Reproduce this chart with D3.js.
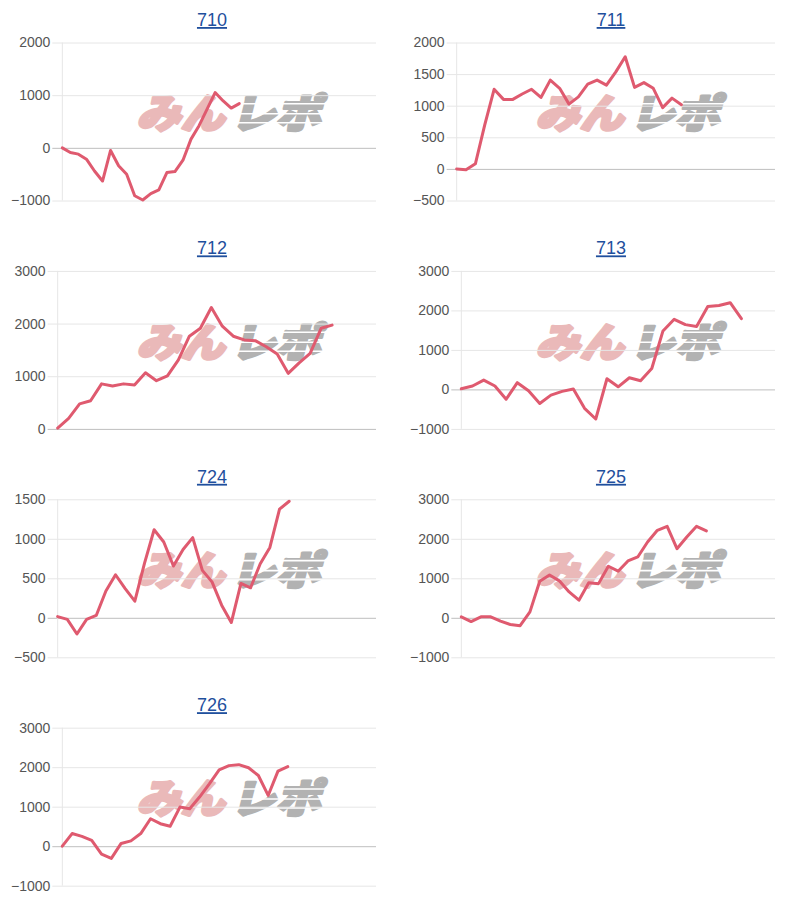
<!DOCTYPE html>
<html>
<head>
<meta charset="utf-8">
<script src="https://cdn.jsdelivr.net/npm/d3@7"></script>
<style>
  body { margin: 0; background: #fff; }
  svg { display: block; }
</style>
</head>
<body>
<svg id="chart" width="800" height="906"></svg>
<script>
// machine numbers shown as panel titles
const machines = ['710', '711', '712', '713', '724', '725', '726'];
// number of x slots (hidden category labels) on each panel
const slotCounts = [40, 35, 30, 29, 34, 33, 33];

// y tick labels per panel
const ticks710 = [-1000, 0, 1000, 2000];
const ticks711 = [-500, 0, 500, 1000, 1500, 2000];
const ticks712 = [0, 1000, 2000, 3000];
const ticks713 = [-1000, 0, 1000, 2000, 3000];
const ticks724 = [-500, 0, 500, 1000, 1500];
const ticks725 = [-1000, 0, 1000, 2000, 3000];
const ticks726 = [-1000, 0, 1000, 2000, 3000];

// coin difference series
const diff710 = [0, -90, -120, -215, -440, -630, -50, -340, -500, -910, -990, -870,
  -800, -470, -450, -235, 165, 420, 735, 1050, 890, 755, 840];
const diff711 = [0, -15, 80, 695, 1260, 1100, 1100, 1185, 1260, 1130, 1405, 1275,
  1025, 1140, 1340, 1405, 1325, 1535, 1775, 1290, 1365, 1275, 970, 1120, 1015];
const diff712 = [15, 200, 475, 535, 855, 815, 855, 835, 1065, 915, 1005, 1310, 1760,
  1910, 2305, 1950, 1760, 1690, 1675, 1560, 1420, 1055, 1255, 1435, 1910, 1970];
const diff713 = [15, 85, 235, 85, -250, 170, -35, -355, -145, -50, 10, -480, -750,
  270, 65, 295, 220, 530, 1480, 1775, 1640, 1595, 2100, 2125, 2195, 1790];
const diff724 = [15, -20, -205, -20, 30, 340, 545, 370, 210, 690, 1115, 960, 655,
  865, 1015, 600, 455, 160, -60, 435, 380, 685, 890, 1375, 1475];
const diff725 = [25, -95, 25, 25, -85, -170, -200, 150, 925, 1085, 935, 655, 445,
  885, 865, 1305, 1180, 1440, 1540, 1920, 2215, 2315, 1750, 2045, 2315, 2200];
const diff726 = [0, 320, 250, 150, -200, -310, 70, 135, 320, 695, 570, 505, 990,
  950, 1245, 1580, 1935, 2040, 2065, 1985, 1790, 1285, 1900, 2015];

const tickSets = [ticks710, ticks711, ticks712, ticks713, ticks724, ticks725, ticks726];
const series = [diff710, diff711, diff712, diff713, diff724, diff725, diff726];

const colX = [0, 399];
const rowH = 228.4;
const font = '"Liberation Sans", Arial, Helvetica, sans-serif';
const lineColor = '#df5a6f';

const svg = d3.select('#chart');

// measure widest tick label so the plot starts after it
function labelWidth(values) {
  const tmp = svg.append('g')
      .style('font', '14px ' + font);
  let w = 0;
  values.forEach((v) => {
    const t = tmp.append('text').text(v);
    w = Math.max(w, t.node().getComputedTextLength());
  });
  tmp.remove();
  return w;
}

machines.forEach((name, i) => {
  const x0 = colX[i % 2];
  const y0 = Math.floor(i / 2) * rowH;
  const ticks = tickSets[i];
  const data = series[i];

  const plotLeft = x0 + 14.5 + labelWidth(ticks) + 12;
  const plotRight = x0 + 376;
  const plotTop = y0 + 42.5;
  const plotBottom = y0 + 200.5;

  const g = svg.append('g').attr('class', 'panel');

  // title (link style)
  g.append('text')
      .attr('x', x0 + 212)
      .attr('y', y0 + 26)
      .attr('text-anchor', 'middle')
      .style('font', '18px ' + font)
      .style('text-decoration', 'underline')
      .attr('fill', '#1f4f9d')
      .text(name);

  const x = d3.scaleLinear()
      .domain([0, slotCounts[i] - 1])
      .range([plotLeft, plotRight]);
  const y = d3.scaleLinear()
      .domain(d3.extent(ticks))
      .range([plotBottom, plotTop]);

  // watermark logo
  const wm = g.append('g')
      .attr('transform', 'translate(' + (x0 + 233) + ',' + (y0 + 111) + ') skewX(-14)')
      .style('font-family', '"Noto Sans CJK JP", sans-serif')
      .style('font-weight', 900)
      .style('font-size', '40px')
      .attr('dominant-baseline', 'central');
  wm.append('text')
      .attr('x', -92)
      .attr('textLength', 88)
      .attr('lengthAdjust', 'spacingAndGlyphs')
      .attr('fill', '#eab9b9')
      .attr('stroke', '#eab9b9')
      .attr('stroke-width', 3)
      .attr('stroke-linejoin', 'round')
      .text('みん');
  wm.append('text')
      .attr('x', 2)
      .attr('textLength', 90)
      .attr('lengthAdjust', 'spacingAndGlyphs')
      .attr('fill', '#b2b2b2')
      .attr('stroke', '#b2b2b2')
      .attr('stroke-width', 3)
      .attr('stroke-linejoin', 'round')
      .text('レポ');
  [-8, 2, 11].forEach((dy) => {
    wm.append('rect')
        .attr('x', 0)
        .attr('y', dy)
        .attr('width', 98)
        .attr('height', 1.6)
        .attr('fill', '#fff');
  });

  // grid + y labels
  const axis = g.append('g')
      .attr('transform', 'translate(' + plotRight + ',0)')
      .call(d3.axisLeft(y)
          .tickValues(ticks)
          .tickSize(plotRight - plotLeft + 10)
          .tickPadding(2)
          .tickFormat(d3.format('d')));
  axis.select('.domain').remove();
  axis.selectAll('line')
      .attr('stroke', (d) => d === 0 ? '#bfbfbf' : '#e6e6e6');
  axis.selectAll('text')
      .attr('fill', '#555')
      .style('font', '14px ' + font);

  g.append('line')
      .attr('x1', plotLeft)
      .attr('x2', plotLeft)
      .attr('y1', plotTop)
      .attr('y2', plotBottom)
      .attr('stroke', '#e6e6e6');

  const line = d3.line()
      .x((d, j) => x(j))
      .y((d) => y(d));

  g.append('path')
      .datum(data)
      .attr('d', line)
      .attr('fill', 'none')
      .attr('stroke', lineColor)
      .attr('stroke-width', 3)
      .attr('stroke-linejoin', 'round')
      .attr('stroke-linecap', 'round');
});
</script>
</body>
</html>
